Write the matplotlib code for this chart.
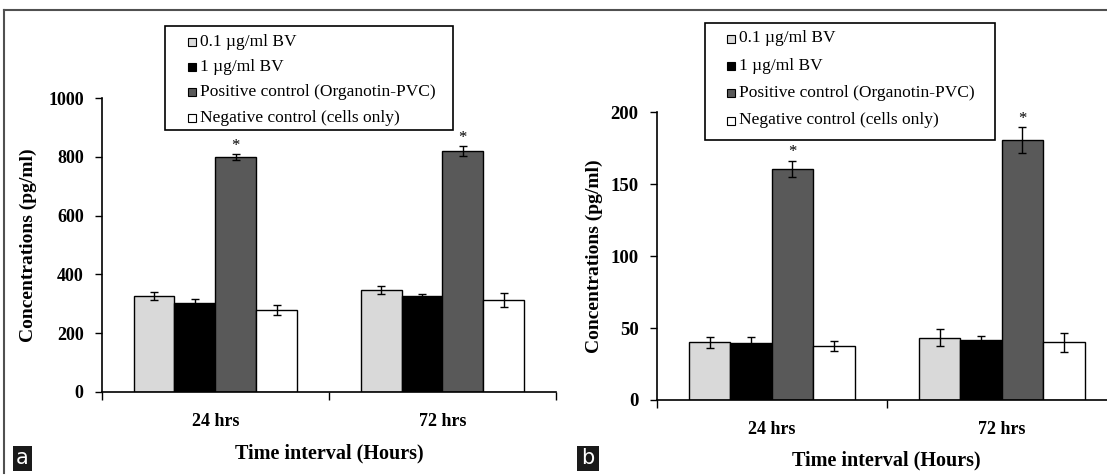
import matplotlib
matplotlib.use('Agg')
import matplotlib.pyplot as plt
from matplotlib.patches import Rectangle
from matplotlib.lines import Line2D
import numpy as np

plt.rcParams['font.family'] = ['Liberation Serif', 'DejaVu Serif']

# ---------------- data ----------------
categories = ['24 hrs', '72 hrs']
series_labels = ['0.1 µg/ml BV', '1 µg/ml BV',
                 'Positive control (Organotin-PVC)', 'Negative control (cells only)']
series_colors = ['#d9d9d9', '#000000', '#595959', '#ffffff']

# Panel a
a_low = [327, 347]
a_high = [304, 327]
a_pos = [800, 820]
a_neg = [279, 313]
a_low_err = [13, 14]
a_high_err = [11, 6]
a_pos_err = [10, 17]
a_neg_err = [16, 23]
a_yticks = [0, 200, 400, 600, 800, 1000]

# Panel b
b_low = [40, 43.3]
b_high = [39.6, 41.9]
b_pos = [160.6, 180.9]
b_neg = [37.7, 40]
b_low_err = [3.8, 5.8]
b_high_err = [4, 2.3]
b_pos_err = [5.8, 9]
b_neg_err = [3.5, 6.4]
b_yticks = [0, 50, 100, 150, 200]

xlabel = 'Time interval (Hours)'
ylabel = 'Concentrations (pg/ml)'
star = '*'

W, H = 1107, 475
fig = plt.figure(figsize=(W / 100, H / 100), dpi=100)


def fx(px):
    return px / W


def fy(py):
    return 1 - py / H


def draw_panel(ax_rect, vals, errs, yticks, ylim, tick_fs, ylabel_x, xlabel_y):
    ax = fig.add_axes(ax_rect)
    n = len(vals)
    width = 0.18
    centers = np.arange(len(categories)) + 0.5
    for i, (v, e) in enumerate(zip(vals, errs)):
        xs = centers + (i - (n - 1) / 2) * width
        ax.bar(xs, v, width=width, color=series_colors[i], edgecolor='black',
               linewidth=1.0, yerr=e, label=series_labels[i], zorder=2,
               error_kw=dict(ecolor='black', elinewidth=1.0, capsize=3, capthick=1.0, zorder=3))
        if i == 2:
            for x, vv, ee in zip(xs, v, e):
                ax.annotate(star, (x, vv + ee), xytext=(0, 3), textcoords='offset points',
                            ha='center', va='baseline', fontsize=12)
    ax.set_xlim(0, 2)
    ax.set_ylim(*ylim)
    ax.set_yticks(yticks)
    ax.set_yticklabels([str(t) for t in yticks], fontsize=tick_fs, fontweight='bold')
    ax.set_xticks([0, 1, 2])
    ax.set_xticklabels([])
    ax.set_xticks(centers, minor=True)
    ax.set_xticklabels(categories, minor=True, fontsize=13, fontweight='bold')
    ax.tick_params(axis='x', which='minor', length=0, pad=15)
    ax.tick_params(axis='x', which='major', length=6, width=1.0, direction='out')
    ax.tick_params(axis='y', length=5, width=1.0, direction='out', pad=8)
    for s in ['top', 'right']:
        ax.spines[s].set_visible(False)
    for s in ['left', 'bottom']:
        ax.spines[s].set_linewidth(1.2)
        ax.spines[s].set_color('black')
    ax.set_ylabel(ylabel, fontsize=14, fontweight='bold')
    ax.yaxis.label.set_va('center')
    ax.yaxis.set_label_coords(ylabel_x, 0.5)
    ax.set_xlabel(xlabel, fontsize=14.5, fontweight='bold')
    ax.xaxis.label.set_va('center')
    ax.xaxis.set_label_coords(0.5, xlabel_y)
    return ax


# Panel a axes: x 101.7..556, y 98.3..391.7
ax_a = draw_panel([fx(101.7), fy(391.7), fx(556 - 101.7), (391.7 - 98.3) / H],
                  [a_low, a_high, a_pos, a_neg],
                  [a_low_err, a_high_err, a_pos_err, a_neg_err],
                  a_yticks, (0, 1000), 13, -0.162, -0.209)
# Panel b axes: x 656.7..1116.7, y 112.3..400
ax_b = draw_panel([fx(656.7), fy(400), fx(460), (400 - 112.3) / H],
                  [b_low, b_high, b_pos, b_neg],
                  [b_low_err, b_high_err, b_pos_err, b_neg_err],
                  b_yticks, (0, 200), 13.5, -0.135, -0.209)


def draw_legend(box, row_y, fs, marker_x, text_x, msize):
    x0, y0, x1, y1 = box
    fig.patches.append(Rectangle((fx(x0), fy(y1)), fx(x1 - x0), (y1 - y0) / H,
                                 transform=fig.transFigure, facecolor='white',
                                 edgecolor='black', linewidth=1.2, zorder=5))
    for lab, col, ry in zip(series_labels, series_colors, row_y):
        fig.patches.append(Rectangle((fx(marker_x), fy(ry + msize / 2)), fx(msize), msize / H,
                                     transform=fig.transFigure, facecolor=col,
                                     edgecolor='black', linewidth=0.8, zorder=6))
        fig.text(fx(text_x), fy(ry), lab, fontsize=fs, ha='left', va='center', zorder=7)


draw_legend((165, 26, 453, 130), [41.7, 66.7, 92, 117.5], 12.5, 188, 200, 8)
draw_legend((705, 23, 995, 140), [38.5, 65.5, 93, 120.5], 12.5, 727, 739, 8)

# outer frame lines
fig.lines.append(Line2D([fx(4), fx(1107)], [fy(10), fy(10)], transform=fig.transFigure,
                        color='#505050', linewidth=1.5))
fig.lines.append(Line2D([fx(4), fx(4)], [fy(10), fy(473)], transform=fig.transFigure,
                        color='#505050', linewidth=1.5))

# panel letters
for letter, (x0, x1) in zip(['a', 'b'], [(13, 32), (577, 599)]):
    fig.patches.append(Rectangle((fx(x0), fy(471)), fx(x1 - x0), 25 / H,
                                 transform=fig.transFigure, facecolor='#1a1a1a',
                                 edgecolor='none', zorder=5))
    fig.text(fx((x0 + x1) / 2), fy(458.5), letter, color='white', fontsize=15,
             family='DejaVu Sans', ha='center', va='center', zorder=6)

fig.savefig('out.png', dpi=100)
